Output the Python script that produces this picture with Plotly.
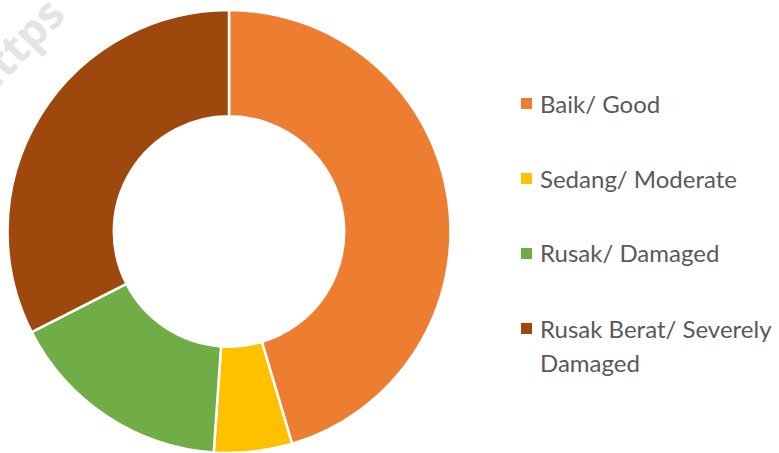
import plotly.graph_objects as go

labels = ["Baik/ Good", "Sedang/ Moderate", "Rusak/ Damaged", "Rusak Berat/ Severely<br>Damaged"]
values = [45.4, 5.7, 16.4, 32.5]
colors = ["#ED7D31", "#FFC000", "#70AD47", "#9E480E"]

W, H = 779, 453
fig = go.Figure()
fig.add_trace(go.Pie(
    labels=labels, values=values, hole=0.52, sort=False, direction="clockwise",
    rotation=0, textinfo="none", hoverinfo="label+percent",
    marker=dict(colors=colors, line=dict(color="white", width=2.5)),
    domain=dict(x=[7 / W, 451 / W], y=[0, 1 - 10 / H]),
    showlegend=False,
))

# manual legend (matches reference spacing)
legend_y = [103, 178, 253, 328]
line_gap = 34
shapes = []
annotations = []
for lab, col, yc in zip(labels, colors, legend_y):
    shapes.append(dict(type="rect", xref="paper", yref="paper",
                       x0=521 / W, x1=532 / W,
                       y0=1 - (yc + 6) / H, y1=1 - (yc - 5) / H,
                       fillcolor=col, line=dict(width=0)))
    for i, part in enumerate(lab.split("<br>")):
        annotations.append(dict(text=part, xref="paper", yref="paper",
                                x=538 / W, y=1 - (yc + i * line_gap) / H,
                                xanchor="left", yanchor="middle",
                                showarrow=False, align="left",
                                font=dict(family="Lato", size=24, color="#595959")))

# faint watermark in the corner
annotations.append(dict(text="<b>https</b>", xref="paper", yref="paper", x=14 / W, y=1 - 47 / H,
                        xanchor="center", yanchor="middle", showarrow=False, textangle=-46,
                        font=dict(family="Open Sans", size=44, color="#e4e4e4")))

fig.update_layout(
    width=W, height=H,
    margin=dict(l=0, r=0, t=0, b=0),
    paper_bgcolor="white", plot_bgcolor="white",
    shapes=shapes, annotations=annotations,
)
fig.write_html("out.html", config={"displayModeBar": False},
               post_script="document.body.style.margin='0';document.body.style.overflow='hidden';")
